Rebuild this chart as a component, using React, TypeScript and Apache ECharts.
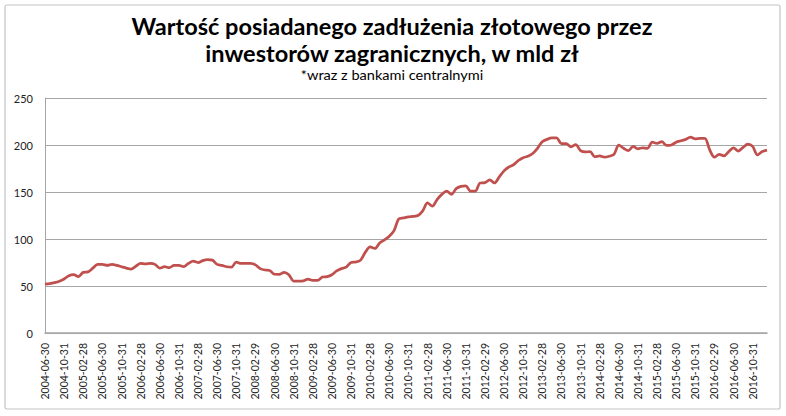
import React, { useEffect, useRef } from "react";
import * as echarts from "echarts";

const TITLE_LINE_1 = "Wartość posiadanego zadłużenia złotowego przez";
const TITLE_LINE_2 = "inwestorów zagranicznych, w mld zł";
const SUBTITLE = "*wraz z bankami centralnymi";

const START_YEAR = 2004;
const START_MONTH = 6; // June
const MONTH_COUNT = 152; // 2004-06 .. 2017-01

const pad = (n: number) => (n < 10 ? "0" + n : "" + n);
const categories: string[] = [];
for (let i = 0; i < MONTH_COUNT; i++) {
  const m0 = START_MONTH - 1 + i;
  const y = START_YEAR + Math.floor(m0 / 12);
  const m = (m0 % 12) + 1;
  const last = new Date(Date.UTC(y, m, 0)).getUTCDate();
  categories.push(`${y}-${pad(m)}-${pad(last)}`);
}

// Values (mld zł)
const values2004to2007: number[] = [
  52, 52.5, 53.5, 55, 57.5, 61, 62, 60, 64.5, 65, 69, 73,
  73, 72, 73, 72, 70.5, 69, 68, 71, 74, 73.5, 74, 73,
  69, 70.5, 69.5, 72, 72, 70.5, 74, 76.5, 75, 77, 78, 77.5,
  73, 72,
];
const values2007to2010: number[] = [
  70.5, 70, 75.5, 74, 74, 74, 72.5, 68.5, 67, 66.5, 62.5, 62.4,
  64.5, 62, 55.3, 55.3, 55.5, 57.4, 56, 56, 59.5, 60, 62, 66,
  68.5, 70, 75, 75.5, 77.5, 86, 91.5, 90, 95.8, 99, 103, 109,
];
const values2010to2013: number[] = [
  121.5, 122.5, 123.5, 124, 125, 130, 138.3, 135, 142, 147.5, 151, 147.5,
  153.6, 156, 156.4, 151, 151, 159.6, 159.9, 163, 159.6, 166, 172.5, 176.6,
  179, 183.5, 186.5, 188, 191, 196.5, 203.5, 206, 207.5, 207.5, 201.5, 201.5,
  198, 200.4, 194, 192.6,
];
const values2014to2017: number[] = [
  193, 187.5, 188.5, 187, 188, 190, 200, 196.5, 194, 198.5, 196, 197,
  196.5, 203, 201.8, 203.5, 199.5, 200, 203, 204.5, 206, 208.5, 206.5, 207,
  207, 195, 187, 190, 188.5, 193, 197, 193.6, 197.5, 201, 198.5, 189.5,
  193, 194.5,
];
const values = [
  ...values2004to2007,
  ...values2007to2010,
  ...values2010to2013,
  ...values2014to2017,
];

const yTicks = { min: 0, max: 250, interval: 50 };

export default function App() {
  const ref = useRef<HTMLDivElement>(null);
  useEffect(() => {
    document.body.style.margin = "0";
    if (!ref.current) return;
    const chart = echarts.init(ref.current, undefined, { renderer: "svg" });
    const font = "Lato, 'DejaVu Sans', sans-serif";
    chart.setOption({
      animation: false,
      backgroundColor: "#ffffff",
      graphic: [
        {
          type: "rect",
          shape: { x: 5, y: 5, width: 775, height: 404, r: 2 },
          style: { fill: "none", stroke: "#c4c4c4", lineWidth: 1.2 },
          silent: true,
        },
        {
          type: "text",
          x: 392,
          y: 27,
          scaleX: 1.07,
          style: {
            text: TITLE_LINE_1,
            font: `bold 22px ${font}`,
            fill: "#000000",
            align: "center",
            verticalAlign: "middle",
          },
        },
        {
          type: "text",
          x: 392,
          y: 54,
          scaleX: 1.07,
          style: {
            text: TITLE_LINE_2,
            font: `bold 22px ${font}`,
            fill: "#000000",
            align: "center",
            verticalAlign: "middle",
          },
        },
        {
          type: "text",
          x: 392,
          y: 75,
          scaleX: 1.12,
          style: {
            text: SUBTITLE,
            font: `13px ${font}`,
            fill: "#000000",
            align: "center",
            verticalAlign: "middle",
          },
        },
      ],
      grid: { left: 45, right: 19, top: 98, bottom: 83, containLabel: false },
      xAxis: {
        type: "category",
        data: categories,
        boundaryGap: false,
        axisLine: { show: true, lineStyle: { color: "#a6a6a6", width: 1.5 } },
        axisTick: { show: false },
        axisLabel: {
          interval: 3,
          rotate: 90,
          margin: 10,
          fontFamily: font,
          fontSize: 10.5,
          color: "#222222",
        },
        splitLine: { show: false },
      },
      yAxis: {
        type: "value",
        min: yTicks.min,
        max: yTicks.max,
        interval: yTicks.interval,
        axisLine: { show: true, lineStyle: { color: "#a6a6a6", width: 1 } },
        axisTick: { show: false },
        axisLabel: {
          margin: 12,
          fontFamily: font,
          fontSize: 11,
          color: "#222222",
        },
        splitLine: { show: true, lineStyle: { color: "#a6a6a6", width: 1 } },
      },
      series: [
        {
          type: "line",
          data: values,
          smooth: 0.3,
          symbol: "none",
          lineStyle: { color: "#c0504d", width: 2.75 },
        },
      ],
    });
    return () => chart.dispose();
  }, []);
  return <div ref={ref} style={{ width: 786, height: 416 }} />;
}
